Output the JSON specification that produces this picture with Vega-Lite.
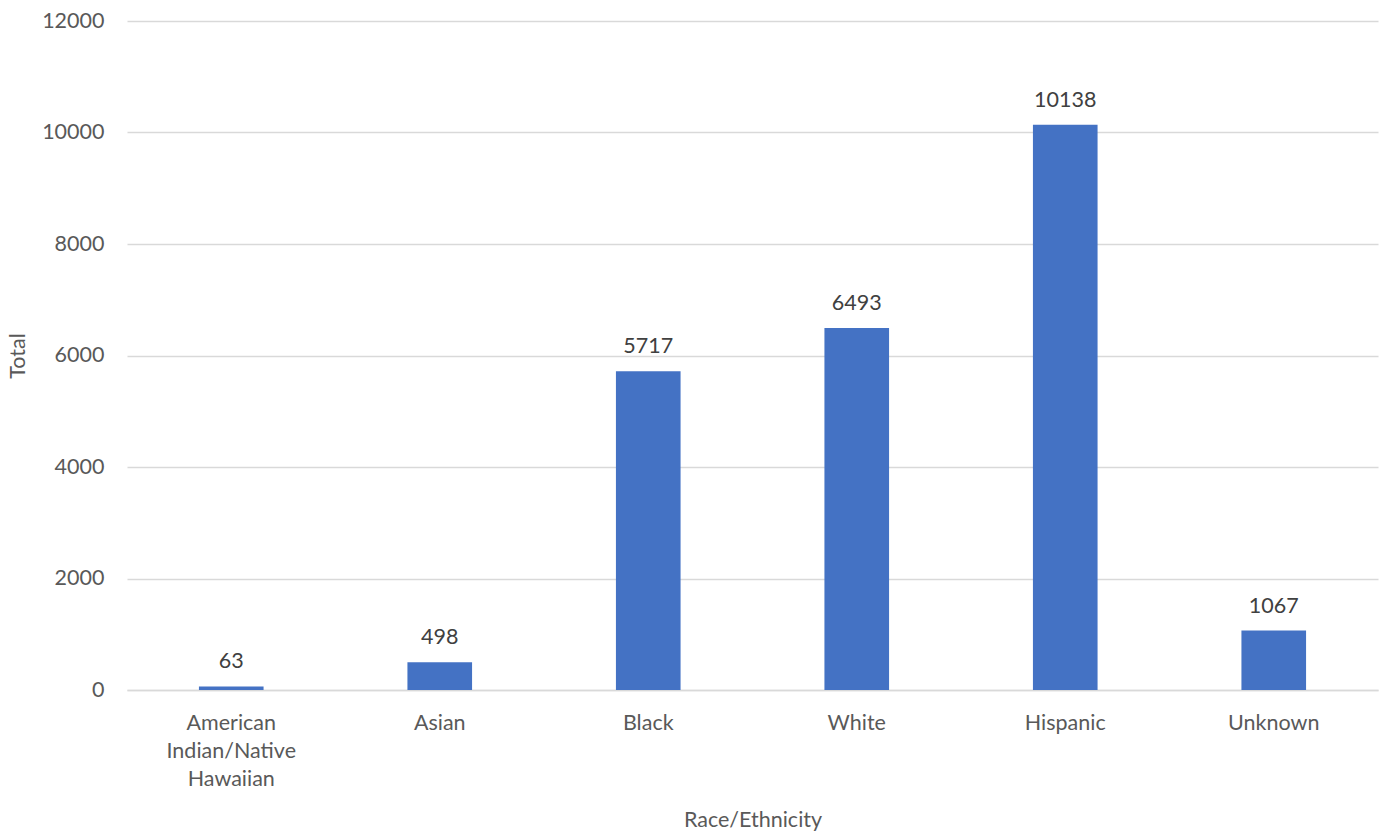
{
  "$schema": "https://vega.github.io/schema/vega-lite/v6.json",
  "autosize": {"type": "none"},
  "width": 1251,
  "height": 669,
  "padding": {"left": 127, "top": 21, "right": 12, "bottom": 143},
  "background": "white",
  "config": {"view": {"stroke": null}, "font": "Lato"},
  "data": {"values": [
    {"race": "American Indian/Native Hawaiian", "total": 63},
    {"race": "Asian", "total": 498},
    {"race": "Black", "total": 5717},
    {"race": "White", "total": 6493},
    {"race": "Hispanic", "total": 10138},
    {"race": "Unknown", "total": 1067}
  ]},
  "encoding": {
    "x": {"field": "race", "type": "nominal", "sort": null,
      "scale": {"paddingInner": 0.69, "paddingOuter": 0.345},
      "axis": {"title": "Race/Ethnicity", "labelAngle": 0, "labelFontSize": 21.5, "labelColor": "#595959",
        "labelExpr": "datum.label == 'American Indian/Native Hawaiian' ? ['American', 'Indian/Native', 'Hawaiian'] : datum.label",
        "labelLineHeight": 28, "labelPadding": 22, "ticks": false, "domainColor": "#d9d9d9", "domainWidth": 1.5,
        "titleFontSize": 21.5, "titleFontWeight": "normal", "titleColor": "#595959", "titleY": 130, "titleBaseline": "middle"}},
    "y": {"field": "total", "type": "quantitative",
      "scale": {"domain": [0, 12000]},
      "axis": {"title": "Total", "values": [0, 2000, 4000, 6000, 8000, 10000, 12000], "format": "d", "labelFontSize": 21.5, "labelColor": "#595959",
        "labelPadding": 23, "ticks": false, "domain": false, "gridColor": "#d9d9d9", "gridWidth": 1.5,
        "titleFontSize": 21.5, "titleFontWeight": "normal", "titleColor": "#595959", "titleX": -109, "titleBaseline": "middle"}}
  },
  "layer": [
    {"mark": {"type": "bar", "color": "#4472C4"}},
    {"mark": {"type": "text", "baseline": "bottom", "dy": -13, "fontSize": 21.5, "color": "#404040"},
      "encoding": {"text": {"field": "total", "type": "quantitative", "format": "d"}}}
  ]
}
